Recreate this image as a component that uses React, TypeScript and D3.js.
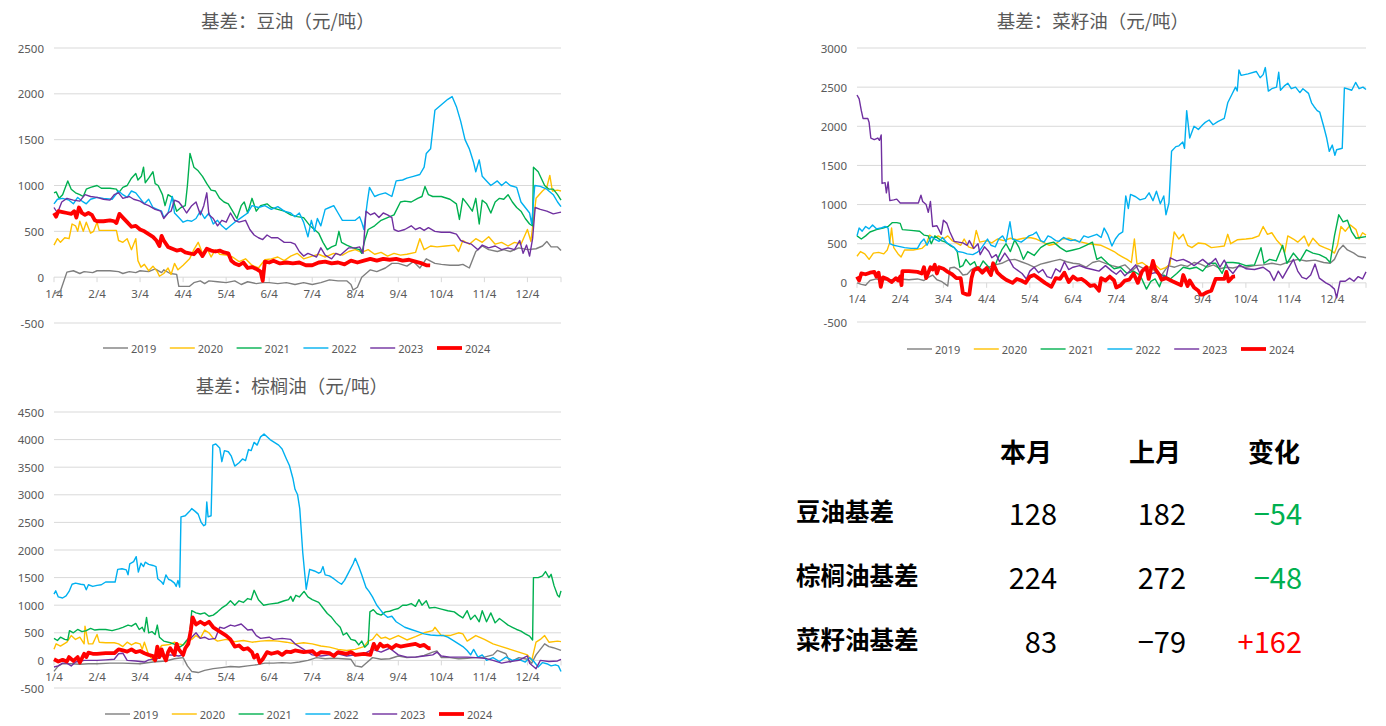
import React from "react";
import * as d3 from "d3";

type P = [number, number];

const years = ["2019", "2020", "2021", "2022", "2023", "2024"];
const colors = ["#7F7F7F", "#FFC000", "#00B050", "#00B0F0", "#7030A0", "#FF0000"];
const monthLabels = ["1/4", "2/4", "3/4", "4/4", "5/4", "6/4", "7/4", "8/4", "9/4", "10/4", "11/4", "12/4"];

// ---------- soybean oil basis ----------
const soy2019: P[] = [[0,-180],[0.15,-150],[0.3,55],[0.45,70],[0.6,40],[0.7,60],[0.9,50],[1.0,70],[1.3,70],[1.5,60],[1.6,40],[1.75,60],[1.9,50],[2.0,70],[2.2,60],[2.35,90],[2.5,50],[2.55,80],[2.7,40],[2.85,30],[2.9,-100],[3.0,-100],[3.15,-100],[3.25,-60],[3.4,-40],[3.5,-70],[3.6,-40],[3.8,-50],[4.0,-60],[4.2,-40],[4.35,-80],[4.5,-50],[4.7,-70],[4.85,-60],[5.0,-60],[5.2,-70],[5.4,-60],[5.6,-80],[5.8,-60],[6.0,-80],[6.2,-60],[6.4,-30],[6.6,-40],[6.8,-40],[6.9,-80],[6.95,-140],[7.05,-110],[7.15,0],[7.25,40],[7.35,80],[7.5,60],[7.7,100],[7.85,150],[8.0,150],[8.2,120],[8.35,170],[8.5,100],[8.65,200],[8.85,150],[9.0,140],[9.2,130],[9.4,130],[9.5,140],[9.65,100],[9.8,280],[9.95,340],[10.1,300],[10.3,280],[10.45,300],[10.6,280],[10.8,320],[11.0,300],[11.2,310],[11.35,340],[11.45,390],[11.55,330],[11.7,330],[11.78,290]];
const soy2020: P[] = [[0,350],[0.08,420],[0.15,380],[0.25,430],[0.35,420],[0.42,580],[0.5,560],[0.55,500],[0.6,610],[0.68,500],[0.75,600],[0.85,480],[0.92,500],[1.0,600],[1.05,510],[1.3,510],[1.45,510],[1.5,400],[1.6,380],[1.7,420],[1.8,300],[1.9,420],[1.95,180],[2.02,110],[2.1,140],[2.2,70],[2.3,120],[2.4,60],[2.45,10],[2.55,40],[2.65,100],[2.72,30],[2.8,150],[2.88,80],[3.0,130],[3.15,200],[3.25,300],[3.35,380],[3.45,260],[3.55,320],[3.65,220],[3.75,300],[3.85,250],[4.0,240],[4.15,220],[4.3,170],[4.45,200],[4.6,130],[4.75,100],[4.9,190],[5.05,200],[5.2,220],[5.35,180],[5.5,230],[5.65,260],[5.8,200],[6.0,230],[6.15,250],[6.3,220],[6.5,260],[6.7,240],[6.85,280],[7.0,300],[7.15,270],[7.3,300],[7.45,250],[7.6,270],[7.75,230],[7.9,260],[8.05,240],[8.2,250],[8.4,270],[8.5,420],[8.6,300],[8.75,340],[8.9,330],[9.1,340],[9.3,350],[9.4,280],[9.5,400],[9.65,360],[9.8,420],[9.95,380],[10.1,440],[10.25,360],[10.4,380],[10.55,340],[10.7,380],[10.85,360],[11.0,520],[11.08,390],[11.2,860],[11.35,940],[11.45,980],[11.52,1110],[11.58,940],[11.7,950],[11.78,940]];
const soy2021: P[] = [[0,920],[0.05,930],[0.12,860],[0.2,900],[0.32,1050],[0.4,960],[0.5,920],[0.6,900],[0.68,880],[0.75,960],[0.85,980],[1.0,1000],[1.1,970],[1.3,970],[1.45,960],[1.5,920],[1.6,980],[1.7,1000],[1.8,1080],[1.9,1130],[1.95,1060],[2.03,1100],[2.08,1200],[2.12,1030],[2.2,1080],[2.3,1150],[2.35,1020],[2.42,1000],[2.52,900],[2.58,780],[2.65,900],[2.75,870],[2.85,720],[2.95,760],[3.05,780],[3.1,1000],[3.16,1350],[3.25,1200],[3.35,1160],[3.45,1100],[3.55,1020],[3.65,950],[3.75,940],[3.85,860],[3.95,820],[4.05,800],[4.15,720],[4.25,640],[4.35,780],[4.42,820],[4.5,700],[4.6,860],[4.7,720],[4.8,780],[4.95,800],[5.05,760],[5.2,740],[5.35,720],[5.5,680],[5.65,660],[5.8,650],[5.95,560],[6.05,520],[6.15,480],[6.25,380],[6.35,300],[6.45,330],[6.55,350],[6.62,500],[6.68,380],[6.8,350],[6.95,320],[7.1,300],[7.15,260],[7.22,400],[7.3,520],[7.45,560],[7.6,620],[7.75,650],[7.9,680],[8.05,820],[8.15,830],[8.3,820],[8.45,860],[8.55,880],[8.62,990],[8.7,900],[8.8,880],[9.0,880],[9.2,850],[9.35,800],[9.42,630],[9.5,860],[9.6,800],[9.72,720],[9.8,860],[9.88,580],[9.95,840],[10.05,800],[10.15,700],[10.25,820],[10.35,860],[10.45,850],[10.55,900],[10.65,820],[10.75,760],[10.85,720],[10.95,640],[11.05,580],[11.12,560],[11.14,1200],[11.25,1150],[11.4,1000],[11.5,960],[11.6,960],[11.7,900],[11.78,840]];
const soy2022: P[] = [[0,800],[0.08,850],[0.2,860],[0.35,840],[0.45,800],[0.55,870],[0.65,830],[0.75,800],[0.85,850],[1.0,870],[1.15,860],[1.35,850],[1.5,940],[1.6,900],[1.7,870],[1.8,940],[1.9,920],[2.0,860],[2.1,800],[2.2,850],[2.3,760],[2.4,740],[2.5,720],[2.55,650],[2.65,700],[2.75,880],[2.8,700],[2.9,650],[3.0,600],[3.1,620],[3.2,610],[3.3,640],[3.4,720],[3.5,640],[3.6,700],[3.7,580],[3.8,620],[3.9,560],[4.0,520],[4.1,560],[4.2,600],[4.35,650],[4.5,700],[4.6,780],[4.75,760],[4.9,780],[5.05,740],[5.2,770],[5.35,720],[5.5,700],[5.6,660],[5.7,700],[5.8,600],[5.9,440],[5.98,620],[6.05,500],[6.12,640],[6.2,560],[6.3,740],[6.4,760],[6.5,780],[6.6,700],[6.7,620],[6.85,620],[7.0,620],[7.1,660],[7.15,600],[7.2,520],[7.28,820],[7.33,980],[7.45,880],[7.55,900],[7.7,920],[7.85,880],[7.95,1050],[8.1,1060],[8.2,1080],[8.35,1100],[8.5,1120],[8.6,1200],[8.65,1350],[8.75,1400],[8.85,1820],[9.0,1880],[9.15,1940],[9.25,1970],[9.35,1860],[9.45,1700],[9.55,1500],[9.65,1400],[9.75,1250],[9.8,1150],[9.88,1280],[9.95,1100],[10.05,1050],[10.15,1000],[10.3,1050],[10.4,1000],[10.5,1040],[10.6,1000],[10.75,980],[10.85,820],[10.95,760],[11.05,700],[11.1,580],[11.17,1000],[11.3,990],[11.45,960],[11.6,900],[11.7,820],[11.78,770]];
const soy2023: P[] = [[0,760],[0.08,700],[0.18,820],[0.3,860],[0.45,840],[0.6,830],[0.72,900],[0.85,880],[1.0,870],[1.15,850],[1.3,840],[1.4,900],[1.5,920],[1.6,860],[1.75,880],[1.85,850],[2.0,830],[2.1,800],[2.2,780],[2.35,740],[2.48,720],[2.55,640],[2.65,700],[2.72,720],[2.8,840],[2.9,820],[3.0,760],[3.08,700],[3.2,780],[3.3,820],[3.4,680],[3.48,780],[3.55,920],[3.6,680],[3.7,640],[3.8,560],[3.9,620],[4.0,600],[4.1,700],[4.2,620],[4.3,600],[4.45,620],[4.55,520],[4.65,460],[4.75,430],[4.85,410],[4.95,460],[5.05,430],[5.2,430],[5.35,380],[5.5,380],[5.6,360],[5.7,280],[5.8,230],[5.9,260],[6.0,240],[6.1,220],[6.2,320],[6.3,240],[6.45,200],[6.55,260],[6.65,240],[6.75,280],[6.85,320],[7.0,320],[7.1,330],[7.18,260],[7.25,720],[7.35,680],[7.45,700],[7.55,650],[7.65,700],[7.75,680],[7.85,650],[7.9,520],[8.0,500],[8.15,520],[8.3,560],[8.4,520],[8.5,540],[8.6,510],[8.7,540],[8.85,500],[9.0,490],[9.2,490],[9.35,470],[9.45,400],[9.55,380],[9.7,360],[9.85,300],[9.95,350],[10.1,320],[10.25,340],[10.4,300],[10.55,320],[10.7,300],[10.82,400],[10.9,260],[10.98,350],[11.05,230],[11.12,420],[11.18,760],[11.3,740],[11.45,720],[11.6,690],[11.78,710]];
const soy2024: P[] = [[0,700],[0.05,660],[0.1,720],[0.2,710],[0.3,700],[0.4,690],[0.47,720],[0.52,650],[0.58,760],[0.65,700],[0.72,680],[0.8,700],[0.88,680],[0.95,620],[1.0,610],[1.15,610],[1.3,620],[1.4,610],[1.45,590],[1.52,690],[1.6,650],[1.7,600],[1.8,550],[1.9,560],[2.0,520],[2.1,500],[2.2,470],[2.3,440],[2.38,400],[2.45,340],[2.5,450],[2.55,400],[2.65,330],[2.75,310],[2.85,290],[2.95,300],[3.05,270],[3.15,260],[3.25,250],[3.35,300],[3.45,230],[3.55,310],[3.65,290],[3.75,280],[3.85,290],[3.95,270],[4.05,260],[4.12,180],[4.2,150],[4.3,130],[4.4,160],[4.5,100],[4.6,110],[4.7,90],[4.8,60],[4.85,-40],[4.9,170],[5.0,160],[5.1,180],[5.25,150],[5.4,160],[5.55,150],[5.7,160],[5.85,130],[6.0,130],[6.15,160],[6.3,170],[6.45,150],[6.6,160],[6.75,140],[6.9,180],[7.05,160],[7.2,180],[7.35,200],[7.5,180],[7.65,200],[7.8,190],[7.95,200],[8.1,180],[8.25,190],[8.4,170],[8.55,150],[8.65,130],[8.74,128]];

// ---------- rapeseed oil basis ----------
const rape2019: P[] = [[0,0],[0.1,-20],[0.2,-30],[0.3,30],[0.45,50],[0.6,40],[0.8,40],[1.0,50],[1.2,40],[1.4,50],[1.55,30],[1.65,70],[1.75,100],[1.85,40],[1.95,20],[2.05,-20],[2.1,-40],[2.15,190],[2.25,200],[2.35,170],[2.45,100],[2.55,110],[2.65,170],[2.75,200],[2.9,170],[3.05,200],[3.2,230],[3.35,250],[3.5,290],[3.65,300],[3.8,270],[3.95,240],[4.1,200],[4.25,240],[4.4,260],[4.55,280],[4.7,300],[4.85,270],[5.0,250],[5.15,240],[5.3,200],[5.45,260],[5.6,280],[5.75,250],[5.9,220],[6.05,200],[6.2,230],[6.35,150],[6.5,220],[6.65,180],[6.8,200],[6.95,120],[7.05,100],[7.2,220],[7.35,200],[7.5,230],[7.65,210],[7.8,260],[7.95,240],[8.1,200],[8.25,230],[8.4,180],[8.55,200],[8.7,190],[8.85,210],[9.0,200],[9.2,220],[9.4,230],[9.6,250],[9.8,230],[10.0,270],[10.2,300],[10.4,280],[10.6,290],[10.8,260],[10.95,250],[11.05,300],[11.15,420],[11.25,480],[11.35,420],[11.5,380],[11.6,340],[11.7,330],[11.78,320]];
const rape2020: P[] = [[0,340],[0.08,400],[0.18,370],[0.28,300],[0.38,380],[0.5,390],[0.62,370],[0.7,420],[0.76,520],[0.8,700],[0.85,450],[0.95,370],[1.02,330],[1.1,420],[1.3,420],[1.5,440],[1.6,490],[1.68,610],[1.78,570],[1.88,600],[2.0,560],[2.1,600],[2.2,540],[2.3,510],[2.4,480],[2.48,560],[2.58,460],[2.68,440],[2.76,670],[2.84,520],[3.0,540],[3.12,510],[3.25,560],[3.4,540],[3.55,570],[3.7,550],[3.85,570],[4.0,580],[4.15,560],[4.3,520],[4.45,480],[4.6,500],[4.75,560],[4.9,570],[5.05,540],[5.2,520],[5.35,500],[5.5,490],[5.65,480],[5.8,440],[5.95,400],[6.05,360],[6.15,330],[6.25,300],[6.35,260],[6.42,560],[6.48,240],[6.6,260],[6.75,200],[6.9,230],[7.02,170],[7.12,190],[7.24,230],[7.34,650],[7.45,560],[7.55,620],[7.65,480],[7.75,450],[7.9,510],[8.05,500],[8.2,450],[8.35,460],[8.5,470],[8.58,620],[8.65,500],[8.8,550],[9.0,560],[9.15,570],[9.3,600],[9.4,720],[9.5,620],[9.6,640],[9.72,540],[9.82,480],[9.9,390],[9.97,600],[10.1,560],[10.2,520],[10.35,600],[10.45,470],[10.55,570],[10.7,480],[10.82,450],[10.95,420],[11.05,380],[11.12,480],[11.2,720],[11.3,660],[11.42,740],[11.55,680],[11.62,560],[11.7,640],[11.78,610]];
const rape2021: P[] = [[0,600],[0.1,560],[0.2,600],[0.3,650],[0.45,680],[0.6,700],[0.72,720],[0.82,770],[0.92,770],[1.0,760],[1.05,680],[1.25,670],[1.45,660],[1.55,610],[1.65,600],[1.72,500],[1.8,600],[1.95,540],[2.05,520],[2.15,480],[2.25,450],[2.32,400],[2.38,200],[2.45,220],[2.52,300],[2.62,230],[2.72,270],[2.8,160],[2.92,280],[3.05,200],[3.15,150],[3.25,300],[3.35,420],[3.45,500],[3.55,400],[3.65,550],[3.75,450],[3.85,300],[3.95,400],[4.1,350],[4.25,450],[4.4,500],[4.55,520],[4.7,450],[4.85,400],[5.0,420],[5.15,440],[5.3,480],[5.45,520],[5.55,300],[5.65,330],[5.8,250],[5.95,180],[6.1,200],[6.25,120],[6.4,150],[6.55,100],[6.7,-80],[6.8,20],[6.9,50],[7.0,-50],[7.1,100],[7.25,50],[7.4,120],[7.55,200],[7.7,180],[7.85,200],[8.0,150],[8.15,250],[8.3,250],[8.45,120],[8.55,260],[8.7,260],[8.85,250],[9.0,220],[9.2,230],[9.35,450],[9.42,250],[9.55,300],[9.7,280],[9.85,480],[9.95,250],[10.1,380],[10.25,280],[10.4,420],[10.55,380],[10.7,360],[10.85,320],[10.95,260],[11.05,600],[11.15,870],[11.25,780],[11.35,800],[11.45,650],[11.55,570],[11.65,580],[11.78,590]];
const rape2022: P[] = [[0,600],[0.05,700],[0.12,660],[0.2,720],[0.28,690],[0.36,740],[0.45,690],[0.55,700],[0.65,720],[0.72,700],[0.76,500],[0.85,480],[0.94,470],[1.1,450],[1.25,440],[1.4,440],[1.48,520],[1.55,560],[1.62,480],[1.72,590],[1.8,560],[1.9,530],[1.98,580],[2.08,510],[2.15,490],[2.25,450],[2.33,400],[2.45,390],[2.55,370],[2.68,360],[2.78,390],[2.85,420],[2.95,500],[3.02,560],[3.1,480],[3.2,460],[3.28,560],[3.37,600],[3.45,520],[3.54,780],[3.6,560],[3.7,540],[3.8,520],[3.9,560],[3.98,600],[4.08,620],[4.15,650],[4.25,540],[4.33,520],[4.42,600],[4.5,580],[4.6,540],[4.67,530],[4.78,580],[4.85,560],[4.95,540],[5.05,550],[5.15,520],[5.25,600],[5.35,580],[5.45,600],[5.55,620],[5.65,580],[5.72,700],[5.8,620],[5.9,470],[5.98,560],[6.06,620],[6.15,650],[6.22,1110],[6.28,950],[6.33,1130],[6.45,1100],[6.55,1060],[6.67,1080],[6.76,1150],[6.85,1050],[6.93,1170],[7.02,1010],[7.1,1110],[7.15,870],[7.22,1020],[7.28,1680],[7.38,1740],[7.45,1750],[7.54,1800],[7.58,1720],[7.63,2200],[7.7,1850],[7.8,2000],[7.9,1960],[8.0,2020],[8.06,2050],[8.15,2080],[8.24,2020],[8.35,2060],[8.5,2100],[8.58,2300],[8.67,2400],[8.76,2500],[8.8,2450],[8.84,2720],[8.89,2650],[9.05,2670],[9.24,2700],[9.33,2620],[9.4,2660],[9.45,2750],[9.52,2450],[9.6,2480],[9.71,2500],[9.76,2690],[9.8,2460],[9.9,2520],[9.97,2550],[10.05,2480],[10.15,2500],[10.25,2430],[10.32,2480],[10.45,2420],[10.52,2300],[10.58,2250],[10.65,2200],[10.71,2180],[10.8,2000],[10.87,1850],[10.93,1680],[11.0,1760],[11.06,1630],[11.1,1700],[11.23,1720],[11.28,2490],[11.4,2470],[11.45,2460],[11.54,2560],[11.62,2480],[11.71,2500],[11.78,2470]];
const rape2023: P[] = [[0,2400],[0.05,2350],[0.1,2200],[0.14,2100],[0.25,2100],[0.28,2050],[0.32,1850],[0.4,1830],[0.48,1850],[0.52,1820],[0.56,1890],[0.58,1270],[0.65,1280],[0.68,1150],[0.72,1290],[0.76,1050],[0.85,1060],[0.92,1070],[1.0,1020],[1.2,1020],[1.42,1020],[1.48,1120],[1.52,1040],[1.6,1000],[1.65,900],[1.7,1040],[1.75,720],[1.85,730],[1.95,620],[2.0,800],[2.08,760],[2.15,650],[2.25,530],[2.35,520],[2.45,510],[2.55,480],[2.6,540],[2.7,440],[2.8,500],[2.85,360],[2.95,460],[3.05,400],[3.12,320],[3.22,360],[3.3,270],[3.42,380],[3.52,300],[3.62,200],[3.72,160],[3.82,120],[3.92,50],[4.0,150],[4.1,200],[4.2,130],[4.3,170],[4.4,80],[4.5,60],[4.6,180],[4.7,140],[4.8,270],[4.9,170],[5.0,200],[5.15,220],[5.3,190],[5.45,170],[5.6,150],[5.75,220],[5.9,150],[6.0,110],[6.1,160],[6.2,90],[6.35,170],[6.45,230],[6.55,120],[6.65,180],[6.75,110],[6.9,130],[7.05,100],[7.15,60],[7.25,320],[7.4,280],[7.55,300],[7.7,260],[7.8,220],[7.9,260],[8.0,300],[8.15,230],[8.3,310],[8.4,200],[8.5,290],[8.6,180],[8.7,120],[8.85,230],[9.0,180],[9.2,170],[9.4,200],[9.55,140],[9.65,30],[9.75,150],[9.85,60],[9.95,160],[10.1,300],[10.2,150],[10.3,70],[10.4,50],[10.5,100],[10.6,240],[10.7,60],[10.85,0],[10.95,-30],[11.05,-80],[11.1,-190],[11.18,20],[11.3,20],[11.4,60],[11.5,20],[11.6,80],[11.7,50],[11.78,140]];
const rape2024: P[] = [[0,80],[0.05,30],[0.1,120],[0.2,110],[0.3,130],[0.4,140],[0.45,80],[0.5,130],[0.55,-50],[0.6,70],[0.7,50],[0.8,10],[0.9,60],[0.95,30],[1.0,80],[1.03,-30],[1.05,150],[1.2,150],[1.4,140],[1.5,120],[1.55,200],[1.6,60],[1.7,200],[1.75,170],[1.8,230],[1.85,120],[1.9,200],[2.0,180],[2.1,140],[2.2,110],[2.3,60],[2.4,60],[2.45,-130],[2.55,-150],[2.6,-150],[2.65,60],[2.7,160],[2.8,190],[2.9,130],[3.0,190],[3.1,100],[3.15,250],[3.25,130],[3.35,80],[3.45,40],[3.6,0],[3.7,50],[3.8,30],[3.9,0],[4.0,80],[4.1,100],[4.2,60],[4.35,0],[4.5,-50],[4.6,60],[4.7,50],[4.8,130],[4.9,10],[5.0,80],[5.1,40],[5.2,50],[5.3,10],[5.4,-40],[5.5,-30],[5.6,-100],[5.65,60],[5.75,30],[5.85,80],[5.95,30],[6.0,-60],[6.1,-30],[6.2,30],[6.3,40],[6.4,120],[6.5,0],[6.55,80],[6.6,150],[6.7,200],[6.75,50],[6.85,280],[6.9,180],[7.0,100],[7.05,40],[7.15,60],[7.3,20],[7.5,-30],[7.55,100],[7.65,-40],[7.7,30],[7.8,-60],[7.9,-100],[7.95,-150],[8.0,-150],[8.1,-120],[8.2,-100],[8.3,50],[8.5,50],[8.55,140],[8.6,20],[8.7,80],[8.75,83]];

// ---------- palm oil basis ----------
const palm2019: P[] = [[0,-200],[0.1,-100],[0.2,-60],[0.4,-60],[0.6,-70],[0.8,-60],[1.0,-60],[1.3,-50],[1.6,-50],[2.0,-60],[2.3,-30],[2.6,-10],[2.8,30],[3.0,50],[3.1,-100],[3.2,-200],[3.35,-220],[3.5,-180],[3.7,-150],[3.9,-130],[4.1,-110],[4.3,-120],[4.5,-100],[4.7,-80],[4.9,-50],[5.1,-50],[5.3,-40],[5.5,-50],[5.7,-30],[5.9,0],[6.1,50],[6.3,30],[6.5,40],[6.7,30],[6.9,20],[7.0,-100],[7.15,-120],[7.25,-50],[7.4,50],[7.6,20],[7.8,30],[8.0,80],[8.2,50],[8.4,60],[8.6,90],[8.8,150],[8.9,170],[9.0,50],[9.2,50],[9.4,30],[9.6,40],[9.8,50],[10.0,60],[10.2,100],[10.3,180],[10.5,120],[10.6,-30],[10.8,50],[11.0,20],[11.1,-50],[11.2,100],[11.4,300],[11.5,250],[11.6,230],[11.78,180]];
const palm2020: P[] = [[0,200],[0.05,300],[0.15,260],[0.3,330],[0.4,450],[0.5,380],[0.6,420],[0.7,300],[0.72,620],[0.8,300],[0.9,300],[1.0,470],[1.05,330],[1.2,320],[1.4,320],[1.5,300],[1.6,250],[1.7,330],[1.8,280],[1.9,320],[2.0,300],[2.05,200],[2.1,330],[2.2,100],[2.3,0],[2.4,150],[2.5,270],[2.6,280],[2.7,290],[2.8,330],[2.9,300],[3.0,280],[3.1,350],[3.2,380],[3.3,450],[3.4,400],[3.5,550],[3.6,500],[3.7,400],[3.8,350],[4.0,380],[4.2,340],[4.4,360],[4.6,330],[4.8,350],[5.0,360],[5.2,350],[5.4,330],[5.6,300],[5.8,320],[6.0,300],[6.2,260],[6.4,240],[6.6,200],[6.8,180],[7.0,200],[7.2,250],[7.3,350],[7.4,380],[7.5,480],[7.6,400],[7.7,420],[7.8,380],[8.0,450],[8.2,370],[8.4,430],[8.6,500],[8.8,540],[8.85,600],[9.0,450],[9.2,450],[9.4,500],[9.5,480],[9.6,350],[9.8,450],[10.0,380],[10.2,300],[10.4,250],[10.6,200],[10.8,150],[11.0,100],[11.1,0],[11.2,330],[11.3,380],[11.4,450],[11.5,330],[11.7,350],[11.78,340]];
const palm2021: P[] = [[0,400],[0.08,360],[0.15,420],[0.25,380],[0.32,370],[0.36,540],[0.45,500],[0.55,560],[0.65,520],[0.75,540],[0.85,580],[0.95,550],[1.05,560],[1.2,560],[1.35,540],[1.5,570],[1.6,600],[1.72,640],[1.8,620],[1.9,670],[1.98,560],[2.05,600],[2.1,520],[2.15,780],[2.2,500],[2.28,520],[2.35,470],[2.4,640],[2.45,420],[2.55,350],[2.7,320],[2.85,280],[2.92,240],[3.0,280],[3.08,360],[3.15,420],[3.2,900],[3.3,860],[3.4,840],[3.5,860],[3.6,800],[3.7,820],[3.8,880],[3.9,950],[4.0,1000],[4.1,1080],[4.2,1000],[4.3,1080],[4.4,1050],[4.5,1120],[4.58,1100],[4.65,1270],[4.75,1100],[4.87,1000],[5.0,1020],[5.2,1040],[5.35,1080],[5.45,1100],[5.5,1160],[5.55,1070],[5.62,1180],[5.7,1150],[5.81,1250],[5.9,1150],[6.0,1100],[6.15,1050],[6.25,950],[6.35,850],[6.45,780],[6.55,680],[6.65,600],[6.72,460],[6.8,500],[6.9,380],[7.0,360],[7.08,280],[7.15,350],[7.22,240],[7.3,300],[7.34,880],[7.42,920],[7.5,850],[7.6,820],[7.7,880],[7.8,890],[7.9,920],[8.0,940],[8.1,1000],[8.2,1000],[8.3,1030],[8.4,980],[8.48,1100],[8.55,1000],[8.65,1080],[8.72,950],[8.85,960],[9.0,930],[9.15,900],[9.3,880],[9.4,820],[9.5,770],[9.6,900],[9.68,740],[9.78,820],[9.88,700],[9.95,900],[10.05,700],[10.15,860],[10.25,680],[10.35,760],[10.45,700],[10.55,640],[10.65,600],[10.75,560],[10.85,530],[10.95,480],[11.05,440],[11.12,370],[11.14,1500],[11.25,1500],[11.35,1530],[11.42,1610],[11.5,1500],[11.55,1560],[11.62,1350],[11.7,1180],[11.74,1150],[11.78,1260]];
const palm2022: P[] = [[0,1200],[0.04,1260],[0.1,1150],[0.2,1130],[0.28,1170],[0.35,1250],[0.42,1380],[0.5,1400],[0.62,1380],[0.7,1370],[0.75,1280],[0.8,1370],[0.9,1340],[1.0,1360],[1.1,1370],[1.2,1420],[1.3,1420],[1.42,1420],[1.48,1650],[1.58,1660],[1.68,1640],[1.72,1550],[1.76,1750],[1.85,1790],[1.91,1880],[1.96,1600],[2.02,1760],[2.08,1700],[2.12,1780],[2.2,1740],[2.3,1720],[2.37,1700],[2.41,1480],[2.5,1420],[2.54,1380],[2.6,1550],[2.66,1470],[2.72,1450],[2.8,1400],[2.84,1340],[2.88,1450],[2.92,1330],[2.95,2600],[3.05,2620],[3.15,2700],[3.2,2750],[3.28,2700],[3.35,2650],[3.42,2500],[3.48,2440],[3.52,2460],[3.55,2870],[3.58,2600],[3.65,2620],[3.69,3900],[3.76,3920],[3.85,3850],[3.9,3600],[3.96,3800],[4.05,3780],[4.12,3700],[4.2,3520],[4.3,3580],[4.38,3650],[4.45,3620],[4.52,3820],[4.58,3800],[4.65,3950],[4.72,3900],[4.8,4050],[4.88,4100],[4.95,4050],[5.02,4000],[5.12,3950],[5.22,3900],[5.3,3830],[5.4,3650],[5.47,3530],[5.55,3300],[5.6,3100],[5.66,3000],[5.71,2750],[5.78,1950],[5.86,1290],[5.94,1650],[6.05,1620],[6.15,1580],[6.2,1600],[6.25,1700],[6.3,1550],[6.4,1530],[6.5,1480],[6.6,1420],[6.68,1380],[6.75,1450],[6.85,1600],[6.95,1750],[7.0,1850],[7.08,1700],[7.15,1550],[7.25,1320],[7.32,1250],[7.4,1150],[7.5,1000],[7.58,920],[7.65,850],[7.75,780],[7.85,800],[7.95,700],[8.05,650],[8.15,600],[8.3,560],[8.45,520],[8.6,480],[8.75,460],[8.9,450],[9.05,450],[9.15,420],[9.3,350],[9.4,300],[9.5,250],[9.6,180],[9.68,100],[9.75,200],[9.85,60],[9.95,100],[10.05,0],[10.2,50],[10.35,-20],[10.5,60],[10.65,0],[10.8,20],[10.95,-30],[11.05,50],[11.15,-20],[11.25,-120],[11.35,-40],[11.45,-60],[11.55,-100],[11.65,-80],[11.72,-100],[11.78,-200]];
const palm2023: P[] = [[0,-120],[0.1,-100],[0.2,-50],[0.3,-50],[0.4,-100],[0.5,-30],[0.7,0],[0.9,0],[1.0,0],[1.2,10],[1.4,20],[1.5,120],[1.6,130],[1.7,0],[1.9,-10],[2.1,-30],[2.2,10],[2.4,30],[2.5,80],[2.7,100],[2.9,80],[3.0,100],[3.1,300],[3.2,420],[3.3,500],[3.4,400],[3.5,420],[3.6,380],[3.75,400],[3.85,600],[3.95,580],[4.1,640],[4.2,620],[4.35,660],[4.5,550],[4.6,560],[4.7,450],[4.8,400],[5.0,420],[5.1,380],[5.3,400],[5.5,380],[5.6,300],[5.8,200],[6.0,100],[6.2,80],[6.4,100],[6.6,120],[6.8,80],[7.0,100],[7.2,120],[7.4,200],[7.6,150],[7.8,220],[8.0,100],[8.2,60],[8.4,60],[8.6,80],[8.8,100],[8.9,150],[9.0,80],[9.2,60],[9.4,60],[9.6,60],[9.8,50],[10.0,40],[10.2,0],[10.4,-50],[10.6,-20],[10.8,0],[11.0,80],[11.05,-50],[11.2,-150],[11.3,0],[11.5,-20],[11.7,-10],[11.78,20]];
const palm2024: P[] = [[0,20],[0.1,-20],[0.2,10],[0.3,-20],[0.35,60],[0.45,-10],[0.55,60],[0.6,-40],[0.7,120],[0.75,60],[0.8,140],[0.9,120],[1.0,120],[1.2,130],[1.4,130],[1.5,200],[1.6,180],[1.7,160],[1.8,200],[1.9,150],[2.0,170],[2.1,130],[2.2,100],[2.3,80],[2.35,0],[2.4,250],[2.45,60],[2.5,200],[2.55,80],[2.6,0],[2.65,150],[2.7,220],[2.8,100],[2.85,300],[2.9,200],[3.0,100],[3.05,220],[3.12,300],[3.18,550],[3.22,780],[3.3,650],[3.4,700],[3.5,650],[3.6,700],[3.7,600],[3.8,550],[3.9,500],[4.0,450],[4.1,380],[4.2,250],[4.3,270],[4.4,200],[4.5,220],[4.6,150],[4.65,50],[4.72,100],[4.78,-40],[4.85,20],[4.95,150],[5.05,120],[5.2,150],[5.3,100],[5.4,160],[5.5,150],[5.6,180],[5.8,150],[6.0,170],[6.1,100],[6.2,150],[6.4,130],[6.5,80],[6.6,150],[6.8,120],[6.9,150],[7.0,100],[7.2,120],[7.35,100],[7.43,300],[7.5,200],[7.58,300],[7.65,250],[7.75,270],[7.85,220],[7.95,280],[8.05,250],[8.2,270],[8.4,300],[8.5,260],[8.6,280],[8.7,220],[8.75,224]];

// ---------- table ----------
const tableCols = ["本月", "上月", "变化"];
const tableRows = ["豆油基差", "棕榈油基差", "菜籽油基差"];
const thisMonth = [128, 224, 83];
const lastMonth = [182, 272, -79];

const soyTicks = [-500, 0, 500, 1000, 1500, 2000, 2500];
const rapeTicks = [-500, 0, 500, 1000, 1500, 2000, 2500, 3000];
const palmTicks = [-500, 0, 500, 1000, 1500, 2000, 2500, 3000, 3500, 4000, 4500];

type PanelProps = {
  title: string;
  series: P[][];
  ticks: number[];
  x0: number; x1: number; yTop: number; yBot: number;
  titleX: number; titleY: number;
  legendX: number; legendY: number;
};

const FONT = "'Noto Sans', 'Noto Sans CJK SC', sans-serif";
const GRID = "#D9D9D9";
const TXT = "#595959";

function Panel(p: PanelProps) {
  const xMax = 11.78;
  const x = d3.scaleLinear().domain([0, xMax]).range([p.x0, p.x1]);
  const y = d3.scaleLinear().domain([p.ticks[0], p.ticks[p.ticks.length - 1]]).range([p.yBot, p.yTop]);
  const line = d3.line<P>().x(d => x(d[0])).y(d => y(d[1]));
  const y0 = y(0);
  return (
    <g>
      <text x={p.titleX} y={p.titleY} textAnchor="middle" dominantBaseline="central"
        fontFamily="'Noto Sans CJK SC', sans-serif" fontSize={18.5} fill={TXT}>{p.title}</text>
      {p.ticks.map(t => (
        <g key={t}>
          <line x1={p.x0} x2={p.x1} y1={y(t)} y2={y(t)} stroke={GRID} strokeWidth={1} />
          <text x={p.x0 - 10} y={y(t)} textAnchor="end" dominantBaseline="central"
            fontFamily={FONT} fontSize={11.5} fill={TXT}>{t}</text>
        </g>
      ))}
      {monthLabels.map((m, i) => (
        <g key={m}>
          <line x1={x(i)} x2={x(i)} y1={y0} y2={y0 + 5} stroke={GRID} strokeWidth={1} />
          <text x={x(i)} y={y0 + 16} textAnchor="middle" dominantBaseline="central"
            fontFamily={FONT} fontSize={11.5} fill={TXT}>{m}</text>
        </g>
      ))}
      <line x1={x(xMax)} x2={x(xMax)} y1={y0} y2={y0 + 5} stroke={GRID} strokeWidth={1} />
      {p.series.map((s, i) => (
        <path key={i} d={line(s) || ""} fill="none" stroke={colors[i]}
          strokeWidth={i === 5 ? 3.8 : 1.4} strokeLinejoin="round" />
      ))}
      {years.map((yr, i) => {
        const lx = p.legendX + i * 66.8;
        return (
          <g key={yr}>
            <line x1={lx} x2={lx + 25} y1={p.legendY} y2={p.legendY} stroke={colors[i]}
              strokeWidth={i === 5 ? 3.8 : 1.4} />
            <text x={lx + 28} y={p.legendY} dominantBaseline="central"
              fontFamily={FONT} fontSize={11} fill={TXT}>{yr}</text>
          </g>
        );
      })}
    </g>
  );
}

export default function App() {
  const colX = [1026, 1155, 1274];
  const valRight = [1057, 1186, 1302];
  const rowY = [512, 576, 640];
  return (
    <svg width={1386} height={726} style={{ position: "absolute", left: 0, top: 0, background: "#fff" }}>
      <rect width={1386} height={726} fill="#fff" />
      <Panel title="基差：豆油（元/吨）" series={[soy2019, soy2020, soy2021, soy2022, soy2023, soy2024]}
        ticks={soyTicks} x0={54} x1={561} yTop={48} yBot={323}
        titleX={288} titleY={20} legendX={103} legendY={348} />
      <Panel title="基差：菜籽油（元/吨）" series={[rape2019, rape2020, rape2021, rape2022, rape2023, rape2024]}
        ticks={rapeTicks} x0={857} x1={1366} yTop={48} yBot={322}
        titleX={1093} titleY={20} legendX={907} legendY={349} />
      <Panel title="基差：棕榈油（元/吨）" series={[palm2019, palm2020, palm2021, palm2022, palm2023, palm2024]}
        ticks={palmTicks} x0={54} x1={561} yTop={412} yBot={688}
        titleX={292} titleY={385} legendX={105} legendY={714} />
      {tableCols.map((c, i) => (
        <text key={c} x={colX[i]} y={450} textAnchor="middle" dominantBaseline="central"
          fontFamily="'Noto Sans CJK SC', sans-serif" fontWeight={700} fontSize={26} fill="#000">{c}</text>
      ))}
      {tableRows.map((r, i) => {
        const diff = thisMonth[i] - lastMonth[i];
        const diffTxt = diff > 0 ? "+" + diff : "−" + Math.abs(diff);
        return (
          <g key={r}>
            <text x={796} y={rowY[i] - 2} dominantBaseline="central"
              fontFamily="'Noto Sans CJK SC', sans-serif" fontWeight={700} fontSize={24.5} fill="#000">{r}</text>
            <text x={valRight[0]} y={rowY[i]} textAnchor="end" dominantBaseline="central"
              fontFamily="'Noto Sans CJK SC', sans-serif" fontSize={29} fill="#000">{thisMonth[i]}</text>
            <text x={valRight[1]} y={rowY[i]} textAnchor="end" dominantBaseline="central"
              fontFamily="'Noto Sans CJK SC', sans-serif" fontSize={29} fill="#000">
              {lastMonth[i] < 0 ? "−" + Math.abs(lastMonth[i]) : lastMonth[i]}</text>
            <text x={valRight[2]} y={rowY[i]} textAnchor="end" dominantBaseline="central"
              fontFamily="'Noto Sans CJK SC', sans-serif" fontSize={29}
              fill={diff > 0 ? "#FF0000" : "#00B050"}>{diffTxt}</text>
          </g>
        );
      })}
    </svg>
  );
}
